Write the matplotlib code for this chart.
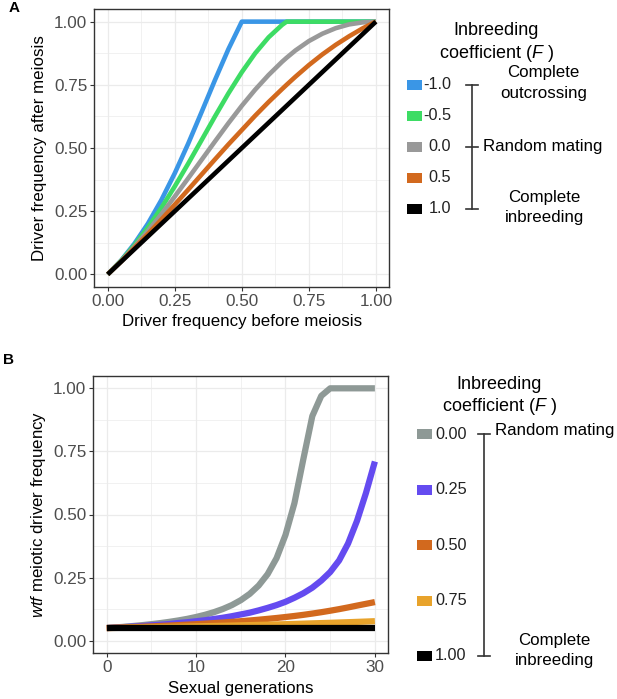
import matplotlib
matplotlib.use("Agg")
import matplotlib.pyplot as plt
from matplotlib.patches import Rectangle
from matplotlib.ticker import MultipleLocator

plt.rcParams["font.family"] = ["Liberation Sans", "DejaVu Sans"]
plt.rcParams["mathtext.fontset"] = "custom"
plt.rcParams["mathtext.rm"] = "Liberation Sans"
plt.rcParams["mathtext.it"] = "Liberation Sans:italic"

# ---- panel A: one round of meiosis ----
freq_before = [0.0, 0.05, 0.10, 0.15, 0.20, 0.25, 0.30, 0.35, 0.40, 0.45, 0.50,
               0.55, 0.60, 0.65, 0.667, 0.70, 0.75, 0.80, 0.85, 0.90, 0.95, 1.0]
after_f_neg10 = [0.0, 0.055, 0.122, 0.201, 0.294, 0.400, 0.517, 0.642, 0.769, 0.891, 1.0,
                 1.0, 1.0, 1.0, 1.0, 1.0, 1.0, 1.0, 1.0, 1.0, 1.0, 1.0]
after_f_neg05 = [0.0, 0.054, 0.116, 0.186, 0.263, 0.348, 0.438, 0.531, 0.625, 0.716, 0.800,
                 0.875, 0.938, 0.987, 1.0, 1.0, 1.0, 1.0, 1.0, 1.0, 1.0, 1.0]
after_f_00 = [0.0, 0.052, 0.110, 0.172, 0.238, 0.308, 0.380, 0.453, 0.526, 0.598, 0.667,
              0.731, 0.789, 0.841, 0.857, 0.886, 0.923, 0.952, 0.974, 0.989, 0.997, 1.0]
after_f_05 = [0.0, 0.051, 0.105, 0.160, 0.217, 0.276, 0.335, 0.395, 0.455, 0.514, 0.571,
              0.628, 0.682, 0.733, 0.750, 0.782, 0.828, 0.870, 0.908, 0.942, 0.973, 1.0]
after_f_10 = [0.0, 0.05, 0.10, 0.15, 0.20, 0.25, 0.30, 0.35, 0.40, 0.45, 0.50,
              0.55, 0.60, 0.65, 0.667, 0.70, 0.75, 0.80, 0.85, 0.90, 0.95, 1.0]
a_labels = ["-1.0", "-0.5", "0.0", "0.5", "1.0"]
a_colors = ["#3A96E6", "#3DDC64", "#999999", "#D2691E", "#000000"]

# ---- panel B: driver frequency across generations ----
generations = list(range(31))
gen_f_000 = [0.050, 0.0525, 0.0552, 0.0583, 0.0617, 0.0655, 0.0697, 0.0746, 0.0801, 0.0864,
             0.0939, 0.1026, 0.113, 0.1256, 0.141, 0.1605, 0.1855, 0.2185, 0.2635, 0.327,
             0.419, 0.545, 0.72, 0.89, 0.97, 1.0, 1.0, 1.0, 1.0, 1.0, 1.0]
gen_f_025 = [0.050, 0.052, 0.054, 0.056, 0.058, 0.061, 0.063, 0.066, 0.070, 0.073,
             0.077, 0.081, 0.086, 0.091, 0.097, 0.104, 0.111, 0.120, 0.130, 0.141,
             0.154, 0.170, 0.188, 0.210, 0.238, 0.272, 0.318, 0.385, 0.475, 0.585, 0.71]
gen_f_050 = [0.050, 0.0512, 0.0525, 0.0538, 0.0552, 0.0567, 0.0583, 0.0599, 0.0617, 0.0635,
             0.0654, 0.0675, 0.0697, 0.0720, 0.0745, 0.0772, 0.0800, 0.0831, 0.0864, 0.0899,
             0.0938, 0.0979, 0.1024, 0.1074, 0.1128, 0.1187, 0.1250, 0.1318, 0.1390, 0.1460, 0.153]
gen_f_075 = [0.050, 0.0506, 0.0512, 0.0518, 0.0525, 0.0532, 0.0538, 0.0545, 0.0552, 0.0560,
             0.0567, 0.0575, 0.0583, 0.0591, 0.0599, 0.0608, 0.0617, 0.0626, 0.0635, 0.0644,
             0.0654, 0.0664, 0.0675, 0.0686, 0.0697, 0.0708, 0.0720, 0.0732, 0.0745, 0.0758, 0.0772]
gen_f_100 = [0.05] * 31
b_labels = ["0.00", "0.25", "0.50", "0.75", "1.00"]
b_colors = ["#8E9996", "#644BF0", "#D2691E", "#E8A32B", "#000000"]

W, H = 617, 699
fig = plt.figure(figsize=(W / 100, H / 100), dpi=100)


def px_axes(left, top, right, bottom):
    return fig.add_axes([left / W, 1 - bottom / H, (right - left) / W, (bottom - top) / H])


def style(ax):
    for s in ax.spines.values():
        s.set_color("#333333")
        s.set_linewidth(1.0)
    ax.grid(which="major", color="#EBEBEB", linewidth=0.9)
    ax.grid(which="minor", color="#EBEBEB", linewidth=0.5)
    ax.set_axisbelow(True)
    ax.tick_params(which="major", length=3, width=0.8, color="#333333",
                   labelsize=12.3, labelcolor="#4D4D4D", pad=2)
    ax.tick_params(which="minor", length=0)
    ax.set_ylim(-0.05, 1.05)
    ax.set_yticks([0, 0.25, 0.5, 0.75, 1.0])
    ax.set_yticklabels(["0.00", "0.25", "0.50", "0.75", "1.00"])
    ax.yaxis.set_minor_locator(MultipleLocator(0.125))


# panel A
axa = px_axes(94.3, 9, 389.3, 287)
style(axa)
for ys, c in zip([after_f_neg10, after_f_neg05, after_f_00, after_f_05, after_f_10], a_colors):
    axa.plot(freq_before, ys, color=c, lw=3.3, solid_capstyle="butt", solid_joinstyle="round")
axa.set_xlim(-0.05, 1.05)
axa.set_xticks([0, 0.25, 0.5, 0.75, 1.0])
axa.set_xticklabels(["0.00", "0.25", "0.50", "0.75", "1.00"])
axa.xaxis.set_minor_locator(MultipleLocator(0.125))
axa.set_xlabel("Driver frequency before meiosis", fontsize=12.2, va="center")
axa.xaxis.set_label_coords(0.5, (287 - 321.7) / 278)
axa.set_ylabel("Driver frequency after meiosis", fontsize=12.2, va="center")
axa.yaxis.set_label_coords((39.3 - 94.3) / 295, 0.5)

# panel B
axb = px_axes(93.3, 375.7, 388.3, 653.3)
style(axb)
for ys, c in zip([gen_f_000, gen_f_025, gen_f_050, gen_f_075, gen_f_100], b_colors):
    axb.plot(generations, ys, color=c, lw=4.5, solid_capstyle="butt", solid_joinstyle="round")
axb.set_xlim(-1.5, 31.5)
axb.set_xticks([0, 10, 20, 30])
axb.xaxis.set_minor_locator(MultipleLocator(5))
axb.set_xlabel("Sexual generations", fontsize=12.2, va="center")
axb.xaxis.set_label_coords(0.5, (653.3 - 688.3) / 277.6)
axb.set_ylabel("$wtf$ meiotic driver frequency", fontsize=12.2, va="center")
axb.yaxis.set_label_coords((38.3 - 93.3) / 295, 0.5)

# overlay in pixel coordinates for panel letters and legends
lax = fig.add_axes([0, 0, 1, 1])
lax.set_xlim(0, W)
lax.set_ylim(H, 0)
lax.axis("off")
lax.patch.set_alpha(0)

lax.text(8.3, 8.3, "A", fontsize=11, fontweight="bold", va="center", ha="left")
lax.text(3.3, 360.3, "B", fontsize=11, fontweight="bold", va="center", ha="left")


def legend(title_x, title_ys, key_x, key_w, y0, step, labels, colors, label_right):
    lax.text(title_x, title_ys[0], "Inbreeding", fontsize=13, ha="center", va="center")
    lax.text(title_x, title_ys[1], "coefficient ($F$ )", fontsize=13, ha="center", va="center")
    for i, (lab, c) in enumerate(zip(labels, colors)):
        y = y0 + step * i
        lax.add_patch(Rectangle((key_x, y - 5), key_w, 10, color=c, lw=0))
        lax.text(label_right, y, lab, fontsize=11.7, color="#222222", ha="right", va="center")


def bracket(x, ys, half=6):
    lax.plot([x, x], [ys[0], ys[-1]], color="#333333", lw=1.2)
    for y in ys:
        lax.plot([x - half, x + half], [y, y], color="#333333", lw=1.2)


legend(496, (30.7, 53.3), 407, 15, 84.5, 31.1, a_labels, a_colors, 451)
bracket(471.7, [84.5, 146.7, 208.9])
lax.text(543.5, 72.7, "Complete", fontsize=12.2, ha="center", va="center")
lax.text(543.5, 93.3, "outcrossing", fontsize=12.2, ha="center", va="center")
lax.text(483.3, 146.7, "Random mating", fontsize=12.2, ha="left", va="center")
lax.text(544, 197.3, "Complete", fontsize=12.2, ha="center", va="center")
lax.text(544, 217.3, "inbreeding", fontsize=12.2, ha="center", va="center")

legend(499, (384.3, 406.7), 417.3, 14.4, 434.3, 55.4, b_labels, b_colors, 466.5)
bracket(484, [434.3, 655.9])
lax.text(495, 431, "Random mating", fontsize=12.2, ha="left", va="center")
lax.text(554, 641, "Complete", fontsize=12.2, ha="center", va="center")
lax.text(554, 661, "inbreeding", fontsize=12.2, ha="center", va="center")

fig.savefig("out.png", dpi=100)
